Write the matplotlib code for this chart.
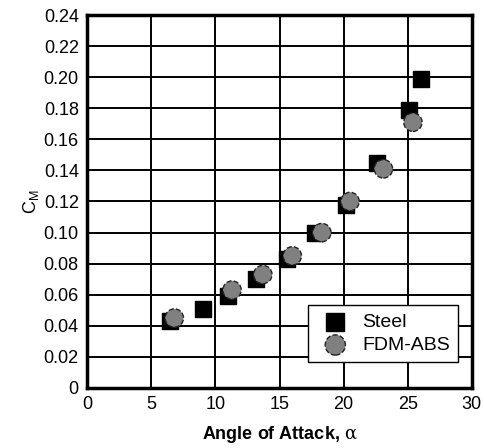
import matplotlib.pyplot as plt
from matplotlib import font_manager

# Data
steel_alpha = [6.5, 9.0, 11.0, 13.2, 15.6, 17.8, 20.2, 22.6, 25.1, 26.0]
steel_cm = [0.043, 0.051, 0.059, 0.070, 0.083, 0.100, 0.118, 0.145, 0.179, 0.199]

abs_alpha = [6.8, 11.3, 13.7, 16.0, 18.3, 20.5, 23.1, 25.4]
abs_cm = [0.045, 0.063, 0.073, 0.085, 0.100, 0.120, 0.141, 0.171]

x_ticks = [0, 5, 10, 15, 20, 25, 30]
y_ticks = [0, 0.02, 0.04, 0.06, 0.08, 0.10, 0.12, 0.14, 0.16, 0.18, 0.20, 0.22, 0.24]
y_tick_labels = ['0', '0.02', '0.04', '0.06', '0.08', '0.10', '0.12', '0.14',
                 '0.16', '0.18', '0.20', '0.22', '0.24']

# Pick a narrow sans if available
names = {f.name for f in font_manager.fontManager.ttflist}
family = 'Liberation Sans Narrow' if 'Liberation Sans Narrow' in names else 'Liberation Sans'
plt.rcParams['font.family'] = [family, 'DejaVu Sans']
plt.rcParams['mathtext.fontset'] = 'dejavuserif'

fig = plt.figure(figsize=(4.84, 4.48), dpi=100)
ax = fig.add_axes([0.18, 0.134, 0.795, 0.8325])

ax.scatter(steel_alpha, steel_cm, marker='s', s=135, color='black',
           label='Steel', zorder=3)
ax.scatter(abs_alpha, abs_cm, marker='o', s=175, facecolor='#808080',
           edgecolor='#222222', linewidths=1.0, linestyle='--',
           label='FDM-ABS', zorder=4)

ax.set_xlim(0, 30)
ax.set_ylim(0, 0.24)
ax.set_xticks(x_ticks)
ax.set_yticks(y_ticks)
ax.set_yticklabels(y_tick_labels)
ax.tick_params(length=0, labelsize=13, pad=6)

ax.grid(True, color='black', linewidth=1.4)
ax.set_axisbelow(True)
for sp in ax.spines.values():
    sp.set_linewidth(2.5)

ax.set_xlabel('Angle of Attack, $\\mathrm{\\alpha}$', fontsize=13,
              fontweight='bold', labelpad=8)
ax.set_ylabel('C$_\\mathregular{M}$', fontsize=13, labelpad=2)

leg = ax.legend(loc='lower right', bbox_to_anchor=(0.964, 0.07),
                borderaxespad=0, fancybox=False, framealpha=1,
                edgecolor='black', fontsize=14, handletextpad=0.4,
                borderpad=0.4, labelspacing=0.3, markerscale=1.1)
leg.get_frame().set_linewidth(1.0)

fig.savefig('out.png', dpi=100)
